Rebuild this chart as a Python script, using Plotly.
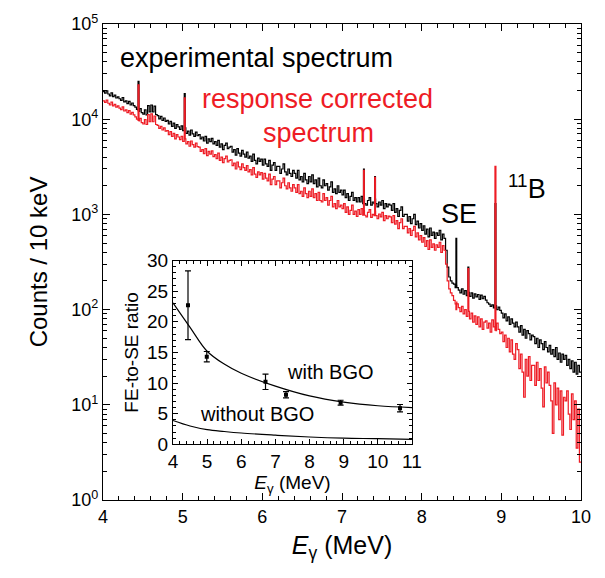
import numpy as np
import plotly.graph_objects as go

# ---------------- data: main spectrum (20 keV bins, 4.00 - 10.00 MeV) ----------------
bin_start = 4.0
bin_width = 0.02
exp_counts = [
    19500, 18800, 19900, 18400, 17600, 18900, 17300, 17900, 16700, 17200,
    16400, 15800, 16900, 15200, 15600, 14600, 15400, 14100, 14800, 13900,
    13400, 12700, 12100, 12900, 11700, 11300, 12500, 11100, 13900, 11900,
    14100, 11900, 13700, 11200, 10900, 10100, 10700, 9700, 10300, 9500,
    9700, 8900, 9500, 8400, 9100, 8000, 8800, 8300, 7800, 8500,
    7600, 8100, 7100, 7500, 6800, 7700, 7000, 6600, 7300, 6700,
    6900, 6200, 6500, 5900, 6600, 5600, 6200, 5800, 6300, 5500,
    5800, 5300, 6000, 5100, 5500, 4800, 5300, 5600, 4900, 5100,
    5200, 4500, 4800, 4200, 4900, 4400, 4100, 4700, 4300, 4000,
    4500, 3900, 4100, 3600, 4300, 3700, 3400, 3900, 3600, 3800,
    3300, 3800, 3400, 3200, 3700, 2900, 3300, 3500, 2900, 3200,
    3200, 2700, 3000, 3400, 2800, 2600, 3000, 2700, 2500, 2900,
    2700, 2400, 2900, 2300, 2500, 2200, 2700, 2300, 2100, 2500,
    2200, 2600, 2100, 2300, 1950, 2400, 2000, 1900, 2300, 2000,
    2100, 1800, 1950, 2200, 1700, 1850, 1650, 2000, 1700, 1800,
    1600, 1800, 1500, 1650, 1400, 1550, 1700, 1400, 1500, 1350,
    1500, 1350, 1550, 1300, 1450, 1250, 1400, 1500, 1250, 1350,
    1300, 1450, 1200, 1350, 1250, 1400, 1150, 1300, 1200, 1280,
    1250, 1100, 1300, 1050, 1150, 950, 1100, 1200, 950, 1000,
    1000, 850, 950, 800, 900, 1000, 780, 850, 720, 800,
    680, 760, 620, 700, 580, 720, 600, 650, 560, 640,
    600, 680, 540, 620, 560, 420, 280, 220, 200, 190,
    185, 170, 180, 160, 150, 165, 145, 158, 140, 152,
    138, 150, 132, 146, 136, 144, 128, 142, 130, 138,
    126, 118, 114, 108, 112, 104, 110, 100, 106, 98,
    92, 82, 90, 76, 84, 70, 80, 72, 66, 74,
    66, 58, 68, 54, 62, 50, 60, 56, 48, 54,
    52, 44, 50, 40, 48, 44, 38, 46, 40, 36,
    42, 34, 38, 32, 40, 30, 35, 28, 34, 30,
    33, 26, 30, 24, 29, 22, 28, 21, 26, 22,
]
corr_counts = [
    15600, 15000, 15900, 14700, 14100, 15100, 13800, 14300, 13400, 13800,
    13100, 12600, 13500, 12200, 12500, 11700, 12300, 11300, 11800, 11100,
    10600, 10000, 9600, 10200, 9200, 8900, 9900, 8800, 11200, 9400,
    11400, 9400, 10800, 8800, 8600, 8000, 8400, 7700, 8100, 7500,
    7600, 6900, 7400, 6600, 7100, 6200, 6900, 6500, 6100, 6600,
    5850, 6200, 5500, 5800, 5200, 5900, 5400, 5100, 5600, 5150,
    5100, 4600, 4800, 4350, 4900, 4150, 4600, 4300, 4650, 4050,
    4250, 3850, 4400, 3700, 4000, 3500, 3850, 4100, 3550, 3700,
    3750, 3250, 3450, 3000, 3550, 3150, 2950, 3400, 3100, 2900,
    3250, 2800, 2950, 2600, 3100, 2650, 2450, 2800, 2600, 2750,
    2350, 2700, 2400, 2250, 2650, 2050, 2350, 2500, 2050, 2250,
    2250, 1900, 2150, 2400, 2000, 1850, 2150, 1900, 1750, 2050,
    1900, 1700, 2050, 1650, 1750, 1550, 1900, 1650, 1500, 1750,
    1550, 1850, 1500, 1650, 1400, 1700, 1400, 1350, 1650, 1400,
    1500, 1250, 1400, 1550, 1200, 1300, 1150, 1400, 1200, 1250,
    1150, 1300, 1050, 1200, 1000, 1100, 1250, 1000, 1080, 950,
    1120, 1000, 1150, 980, 1090, 940, 1050, 1120, 930, 1000,
    970, 1080, 900, 1010, 940, 1050, 860, 970, 900, 960,
    940, 820, 970, 790, 860, 710, 820, 900, 710, 750,
    750, 640, 710, 600, 680, 750, 580, 640, 540, 600,
    510, 570, 460, 530, 430, 540, 450, 490, 420, 480,
    450, 510, 400, 470, 420, 300, 200, 165, 150, 140,
    125, 115, 120, 105, 95, 108, 90, 100, 85, 96,
    80, 92, 74, 86, 70, 84, 66, 80, 62, 74,
    76, 64, 72, 58, 78, 66, 60, 72, 62, 56,
    58, 46, 54, 40, 50, 36, 48, 34, 30, 44,
    38, 24, 34, 22, 12, 30, 20, 32, 18, 26,
    26, 16, 28, 18, 24, 15, 9.5, 25, 17, 22,
    16, 11, 5, 17, 10, 15, 7, 14, 4.8, 12,
    11, 14, 8, 5.5, 13, 7, 11, 3.5, 9, 2.5,
]
# narrow lines (one 10 keV channel)
peak_energy = [4.44, 5.02, 7.27, 7.41, 8.43, 8.58, 8.92]
peak_exp = [25000, 18600, 3000, 2500, 560, 280, 1300]
peak_corr = [23000, 16800, 2900, 2450, 100, 270, 3200]
peak_width = 0.012

# ---------------- data: inset (FE-to-SE ratio) ----------------
ratio_e = [4.44, 4.99, 6.71, 7.31, 8.91, 10.65]
ratio_val = [22.7, 14.3, 10.2, 8.1, 6.8, 5.9]
ratio_err = [5.6, 0.85, 1.25, 0.5, 0.4, 0.6]
fit_e = [4.0, 4.5, 5.0, 5.5, 6.0, 7.0, 8.0, 9.0, 10.0, 11.0]
fit_bgo = [23.1, 19.1, 15.2, 13.1, 11.6, 9.5, 7.9, 6.9, 6.3, 6.0]
fit_nobgo = [3.9, 3.0, 2.4, 2.1, 1.85, 1.5, 1.2, 1.0, 0.92, 0.8]

main_xticks = [4, 5, 6, 7, 8, 9, 10]
main_yticks = [1, 10, 100, 1000, 10000, 100000]
main_yticktext = ["10<sup>0</sup>", "10<sup>1</sup>", "10<sup>2</sup>",
                  "10<sup>3</sup>", "10<sup>4</sup>", "10<sup>5</sup>"]


def build_steps(vals, pk_vals):
    xs, ys = [], []
    for i, v in enumerate(vals):
        lo = bin_start + i * bin_width
        hi = lo + bin_width
        xs.append(lo)
        ys.append(v)
        for pe, pv in zip(peak_energy, pk_vals):
            if lo <= pe < hi:
                xs += [pe, pe + peak_width]
                ys += [pv, v]
    xs.append(bin_start + len(vals) * bin_width)
    ys.append(vals[-1])
    order = np.argsort(xs, kind="stable")
    return [xs[k] for k in order], [ys[k] for k in order]


FONT = "Arial, Liberation Sans, sans-serif"

bx, by = build_steps(exp_counts, peak_exp)
rx, ry = build_steps(corr_counts, peak_corr)

fig = go.Figure()
fig.add_trace(go.Scatter(x=bx, y=by, mode="lines", line=dict(color="black", width=1.2, shape="hv"),
                         xaxis="x", yaxis="y", showlegend=False))
fig.add_trace(go.Scatter(x=rx, y=ry, mode="lines", line=dict(color="#ee1c25", width=1.2, shape="hv"),
                         xaxis="x", yaxis="y", showlegend=False))

# inset
fig.add_trace(go.Scatter(x=fit_e, y=fit_bgo, mode="lines", line=dict(color="black", width=1.2, shape="spline"),
                         xaxis="x2", yaxis="y2", showlegend=False))
fig.add_trace(go.Scatter(x=fit_e, y=fit_nobgo, mode="lines", line=dict(color="black", width=1.2, shape="spline"),
                         xaxis="x2", yaxis="y2", showlegend=False))
fig.add_trace(go.Scatter(x=ratio_e, y=ratio_val, mode="markers",
                         marker=dict(color="black", size=4, symbol="square"),
                         error_y=dict(type="data", array=ratio_err, color="black", thickness=1.2, width=3),
                         xaxis="x2", yaxis="y2", showlegend=False))

axis_common = dict(showline=True, linecolor="black", linewidth=1.2, mirror="allticks",
                   ticks="inside", tickcolor="black", showgrid=False, zeroline=False)

fig.update_layout(
    width=605, height=578,
    margin=dict(l=103, r=24, t=21, b=78),
    paper_bgcolor="white", plot_bgcolor="white",
    font=dict(family=FONT, color="black"),
    xaxis=dict(**axis_common, range=[4, 10], domain=[0, 1], anchor="y",
               tickvals=main_xticks, ticklen=7, tickwidth=1.1,
               minor=dict(dtick=0.2, ticks="inside", ticklen=4, tickcolor="black", tickwidth=1),
               tickfont=dict(size=18),
               title=dict(text="<i>E</i><sub>γ</sub> (MeV)", font=dict(size=25), standoff=10)),
    yaxis=dict(**axis_common, type="log", range=[0, 5], domain=[0, 1], anchor="x",
               tickvals=main_yticks, ticktext=main_yticktext, ticklen=7, tickwidth=1.1,
               minor=dict(dtick="D1", ticks="inside", ticklen=4, tickcolor="black", tickwidth=1),
               tickfont=dict(size=18),
               title=dict(text="Counts / 10 keV", font=dict(size=24), standoff=16)),
    xaxis2=dict(**axis_common, range=[4, 11], domain=[0.1464, 0.6464], anchor="y2",
                dtick=1, tick0=4, ticklen=5, tickwidth=1,
                minor=dict(dtick=0.2, ticks="inside", ticklen=3, tickcolor="black", tickwidth=1),
                tickfont=dict(size=19),
                title=dict(text="<i>E</i><sub>γ</sub> (MeV)", font=dict(size=19), standoff=1)),
    yaxis2=dict(**axis_common, range=[0, 30], domain=[0.1169, 0.5031], anchor="x2",
                dtick=5, tick0=0, ticklen=5, tickwidth=1,
                minor=dict(dtick=1, ticks="inside", ticklen=3, tickcolor="black", tickwidth=1),
                tickfont=dict(size=19),
                title=dict(text="FE-to-SE ratio", font=dict(size=19), standoff=3)),
)

ann = [
    dict(text="experimental spectrum", x=4.19, y=4.645, xanchor="left", color="black", size=27, xref="x", yref="y"),
    dict(text="response corrected", x=6.69, y=4.21, xanchor="center", color="#ee1c25", size=27, xref="x", yref="y"),
    dict(text="spectrum", x=6.70, y=3.86, xanchor="center", color="#ee1c25", size=27, xref="x", yref="y"),
    dict(text="SE", x=8.47, y=3.006, xanchor="center", color="black", size=27, xref="x", yref="y"),
    dict(text="<sup>11</sup>B", x=9.06, y=3.29, xanchor="left", color="black", size=27, xref="x", yref="y"),
    dict(text="with BGO", x=7.28, y=11.8, xanchor="left", color="black", size=20, xref="x2", yref="y2"),
    dict(text="without BGO", x=4.73, y=5.0, xanchor="left", color="black", size=20, xref="x2", yref="y2"),
]
for a in ann:
    fig.add_annotation(text=a["text"], x=a["x"], y=a["y"], xref=a["xref"], yref=a["yref"],
                       xanchor=a["xanchor"], yanchor="middle", showarrow=False,
                       font=dict(size=a["size"], color=a["color"], family=FONT))

fig.write_html("out.html")
